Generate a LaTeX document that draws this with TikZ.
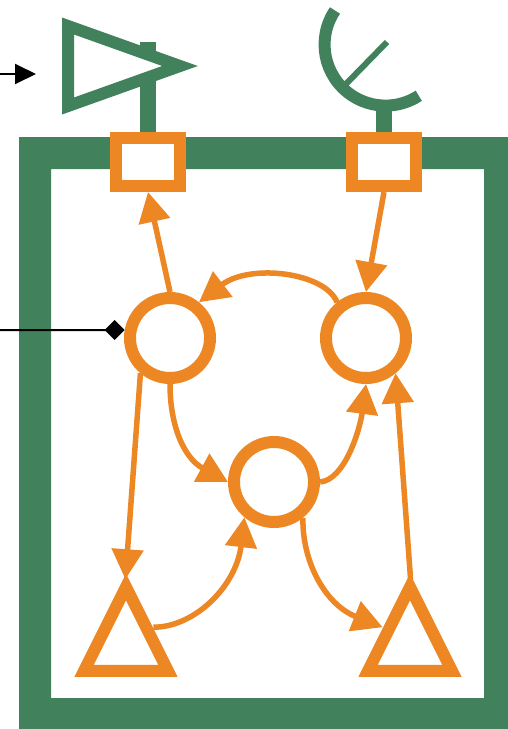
\documentclass[tikz,border=0pt]{standalone}
\usetikzlibrary{arrows.meta,shapes.geometric}
\definecolor{framegreen}{RGB}{65,130,93}
\definecolor{netorange}{RGB}{236,135,36}
\tikzset{
    portbox/.style={draw=netorange, fill=white, line width=12pt, minimum width=64pt, minimum height=48pt, inner sep=0pt},
    unit/.style={circle, draw=netorange, fill=white, line width=12pt, minimum size=80pt, inner sep=0pt},
    gate/.style={isosceles triangle, isosceles triangle stretches, shape border rotate=90, draw=netorange, fill=white, line width=12pt, minimum width=84pt, minimum height=84pt, inner sep=0pt},
    amp/.style={isosceles triangle, isosceles triangle stretches, draw=framegreen, fill=white, line width=12pt, minimum width=80pt, minimum height=112pt, inner sep=0pt},
    link/.style={draw=netorange, line width=5.5pt, -{Triangle[width=31pt,length=30pt]}},
    stem/.style={draw=framegreen, line width=16pt},
    signal/.style={draw=black, line width=2pt}
}
\begin{document}
\begin{tikzpicture}[x=1pt, y=-1pt]
    \useasboundingbox (0,0) rectangle (508,729);

    \fill [framegreen, even odd rule] (19,137) rectangle (508,729) (51,169) rectangle (484,698);

    \node [portbox] (tx port) at (148,162) {};
    \node [portbox] (rx port) at (384,162) {};

    \coordinate (tx top) at (148,42);
    \coordinate (dish bottom) at (384,106);
    \draw [stem] (tx top) -- (tx port.north);
    \draw [stem] (dish bottom) -- (rx port.north);
    \node [amp] (tx amp) at (96.2,66) {};

    \draw [framegreen, line width=12pt] (335,10.5) arc [start angle=146, end angle=303, radius=61pt];
    \coordinate (feed in) at (345,85);
    \coordinate (feed out) at (387,42);
    \draw [framegreen, line width=6pt] (feed in) -- (feed out);

    \node [unit] (left unit) at (170,338) {};
    \node [unit] (right unit) at (366,338) {};
    \node [unit] (mid unit) at (274,482) {};
    \node [gate] (left gate) at (126,645) {};
    \node [gate] (right gate) at (410,645) {};

    \draw [link] (left unit.north) -- (tx port.south);
    \draw [link] (rx port.south) -- (right unit.north);
    \draw [link] (right unit.129) .. controls +(-12,-30) and +(51,-39) .. (left unit.51);
    \draw [link] (left unit.south) .. controls +(0,42) and +(-44,-24) .. (mid unit.west);
    \draw [link] (mid unit.east) .. controls +(25,-2) and +(-6,45) .. (right unit.south);
    \draw [link, shorten >=-8pt] (left unit.230) -- (left gate.apex);
    \draw [link] (left gate.33) .. controls +(42,0) and +(-8,68) .. (mid unit.230);
    \draw [link] (mid unit.309) .. controls +(-1,43) and +(-58,-23) .. (right gate.147);
    \draw [link, shorten <=-8pt] (right gate.apex) -- (right unit.310);

    \coordinate (tx in) at (0,74);
    \coordinate (tx end) at (36,74);
    \draw [signal, -{Triangle[width=20pt,length=21pt]}] (tx in) -- (tx end);
    \coordinate (ctrl in) at (0,330);
    \draw [signal, -{Diamond[width=20pt,length=20pt]}] (ctrl in) -- (left unit.170);
\end{tikzpicture}
\end{document}
